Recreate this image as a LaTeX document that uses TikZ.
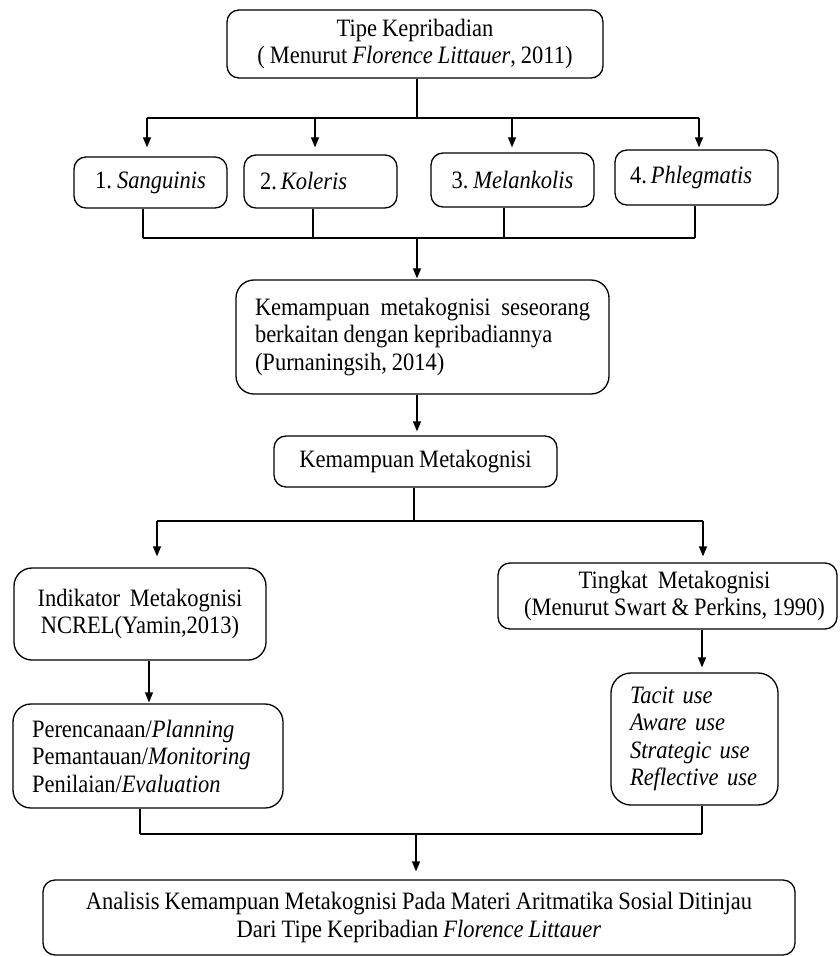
\documentclass[tikz,border=0pt]{standalone}
\usepackage{fontspec}
\setmainfont[FakeStretch=0.9]{Liberation Serif}
\usetikzlibrary{arrows.meta}
\frenchspacing
\newcommand{\nodefont}{\fontsize{25}{27.5}\selectfont\spaceskip=5pt plus 1pt minus 1pt\relax}
\begin{document}
\begin{tikzpicture}[x=1pt,y=-1pt,
  every node/.style={font=\nodefont},
  box/.style={draw, line width=1.3pt, rounded corners=12pt, inner sep=0pt},
  rbox/.style={box, rounded corners=18pt},
  ln/.style={line width=1.3pt},
  arr/.style={ln, -{Triangle[length=10pt,width=8pt]}}]
\useasboundingbox (0,0) rectangle (839,957);

% top
\node[box, minimum width=376pt, minimum height=68pt, align=center] (T) at (415,44)
  {Tipe Kepribadian\\( Menurut \textit{Florence Littauer}, 2011)};

\node[box, minimum width=153pt, minimum height=51pt] (B1) at (150.5,182.5) {1. \textit{Sanguinis}};
\node[box, minimum width=153pt, minimum height=53pt, text width=121pt, align=left] (B2) at (320.5,181.5) {2.\hspace{4pt}\textit{Koleris}};
\node[box, minimum width=163pt, minimum height=54pt] (B3) at (512.5,180) {3. \textit{Melankolis}};
\node[box, minimum width=163pt, minimum height=55pt, text width=133pt, align=left] (B4) at (696.5,177.5) {4.\hspace{4pt}\textit{Phlegmatis}};

\coordinate (a1) at (147,118);
\coordinate (a2) at (315,118);
\coordinate (a3) at (512,118);
\coordinate (a4) at (699,118);
\coordinate (j1) at (417,118);
\draw[ln] (T.south -| j1) -- (j1);
\draw[ln] (a1) -- (a4);
\draw[arr, shorten >=9pt] (a1) -- (a1 |- B1.north);
\draw[arr, shorten >=7pt] (a2) -- (a2 |- B2.north);
\draw[arr, shorten >=5pt] (a3) -- (a3 |- B3.north);
\draw[arr, shorten >=2pt] (a4) -- (a4 |- B4.north);

\coordinate (d1) at (143,238);
\coordinate (d2) at (313,238);
\coordinate (d3) at (504,238);
\coordinate (d4) at (695,238);
\coordinate (dc) at (417,238);
\draw[ln] (d1 |- B1.south) -- (d1);
\draw[ln] (d2 |- B2.south) -- (d2);
\draw[ln] (d3 |- B3.south) -- (d3);
\draw[ln] (d4 |- B4.south) -- (d4);
\draw[ln] (d1) -- (d4);

\node[rbox, minimum width=373pt, minimum height=114pt, text width=335pt, align=justify] (K1) at (422.5,337)
  {Kemampuan metakognisi seseorang berkaitan dengan kepribadiannya\\(Purnaningsih, 2014)};
\draw[arr, shorten >=1pt] (dc) -- (dc |- K1.north);

\node[box, minimum width=283pt, minimum height=51pt] (KM) at (415.5,461.5) {Kemampuan Metakognisi};
\coordinate (k) at (417,394);
\draw[arr, shorten >=4pt] (k |- K1.south) -- (k |- KM.north);

\coordinate (s) at (414,521);
\coordinate (sl) at (157,521);
\coordinate (sr) at (703,521);
\draw[ln] (s |- KM.south) -- (s);
\draw[ln] (sl) -- (sr);

\node[rbox, minimum width=252pt, minimum height=92pt, align=center] (I) at (140,614)
  {Indikator\ \ Metakognisi\\NCREL(Yamin,2013)};
\node[box, minimum width=339pt, minimum height=66pt] (G) at (667.5,596)
  {\hspace*{14pt}\parbox{305pt}{\centering Tingkat\ \ Metakognisi\\(Menurut Swart \& Perkins, 1990)}};
\draw[arr, shorten >=11pt] (sl) -- (sl |- I.north);
\draw[arr, shorten >=6pt] (sr) -- (sr |- G.north);

\node[rbox, minimum width=270pt, minimum height=104pt, text width=232pt, align=left] (P) at (148,756)
  {Perencanaan/\textit{Planning}\\Pemantauan/\textit{Monitoring}\\Penilaian/\textit{Evaluation}};
\node[rbox, rounded corners=20pt, minimum width=167pt, minimum height=132pt, text width=129pt, align=left] (U) at (694.5,739)
  {\textit{Tacit use}\\\textit{Aware use}\\\textit{Strategic use}\\\textit{Reflective use}};
\coordinate (ip) at (149,660);
\coordinate (gu) at (702,629);
\draw[arr, shorten >=1pt] (ip |- I.south) -- (ip |- P.north);
\draw[arr, shorten >=5pt] (gu |- G.south) -- (gu |- U.north);

\coordinate (bl) at (140,834);
\coordinate (br) at (702,834);
\coordinate (bc) at (416,834);
\draw[ln] (bl |- P.south) -- (bl);
\draw[ln] (br |- U.south) -- (br);
\draw[ln] (bl) -- (br);

\node[box, minimum width=752pt, minimum height=75pt, align=center] (B) at (419,917.5)
  {Analisis Kemampuan Metakognisi Pada Materi Aritmatika Sosial Ditinjau\\Dari Tipe Kepribadian \textit{Florence Littauer}};
\draw[arr, shorten >=8pt] (bc) -- (bc |- B.north);
\end{tikzpicture}
\end{document}
